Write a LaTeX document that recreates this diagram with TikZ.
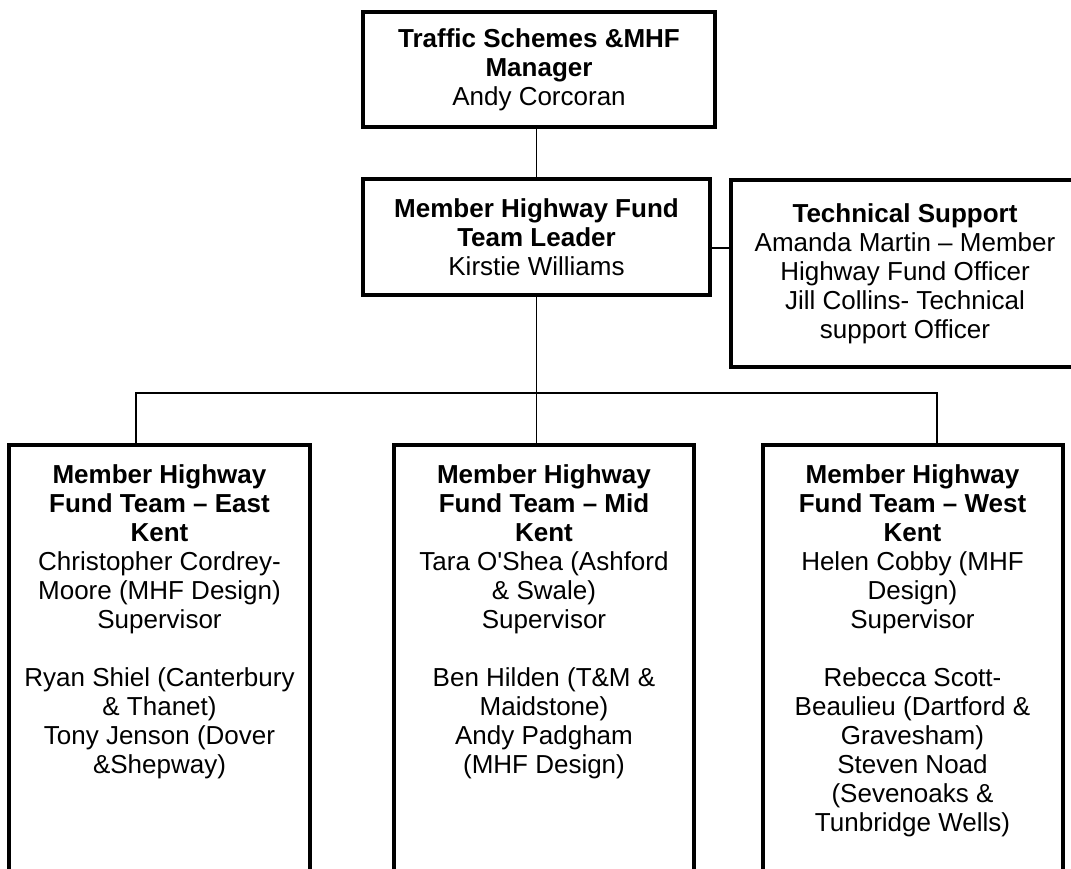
\documentclass[tikz,border=0pt]{standalone}
\usepackage{fontspec}
\setmainfont{Liberation Sans}[Ligatures=TeXOff]
\usepackage{tikz}

\newcommand{\orgsize}{\fontsize{26}{29}\selectfont}
\newcommand{\teamtext}[1]{\parbox[c][430pt][t]{290pt}{\centering #1}}

\tikzset{
  frame/.style={draw, line width=4pt, inner sep=0pt},
  headbox/.style={frame, align=center, font=\orgsize},
  teambox/.style={frame, anchor=north, inner ysep=20pt, inner xsep=5pt, font=\orgsize},
  link/.style={line width=1.3pt},
}

\begin{document}
\begin{tikzpicture}[x=1pt, y=-1pt]
        \useasboundingbox (0,0) rectangle (1071,868);
        \clip (0,0) rectangle (1071,868);
        % management
        \node[headbox, minimum width=352, minimum height=115] (manager) at (539,69.5) {\textbf{Traffic Schemes \&MHF}\\\textbf{Manager}\\Andy Corcoran};
        \node[headbox, minimum width=347, minimum height=116] (leader) at (536.5,237) {\textbf{Member Highway Fund}\\\textbf{Team Leader}\\Kirstie Williams};
        \node[headbox, minimum width=348, minimum height=187] (support) at (905,273.5) {\textbf{Technical Support}\\Amanda Martin – Member\\Highway Fund Officer\\Jill Collins- Technical\\support Officer};
        % teams
        \node[teambox, minimum width=301] (east) at (159.5,443) {\teamtext{\textbf{Member Highway}\\\textbf{Fund Team – East}\\\textbf{Kent}\\Christopher Cordrey-\\Moore (MHF Design)\\Supervisor\\[29pt]Ryan Shiel (Canterbury\\\& Thanet)\\Tony Jenson (Dover\\\&Shepway)}};
        \node[teambox, minimum width=300] (mid) at (544,443) {\teamtext{\textbf{Member Highway}\\\textbf{Fund Team – Mid}\\\textbf{Kent}\\Tara O'Shea (Ashford\\\& Swale)\\Supervisor\\[29pt]Ben Hilden (T\&M \&\\Maidstone)\\Andy Padgham\\(MHF Design)}};
        \node[teambox, minimum width=299] (west) at (912.5,443) {\teamtext{\textbf{Member Highway}\\\textbf{Fund Team – West}\\\textbf{Kent}\\Helen Cobby (MHF\\Design)\\Supervisor\\[29pt]Rebecca Scott-\\Beaulieu (Dartford \&\\Gravesham)\\Steven Noad\\(Sevenoaks \&\\Tunbridge Wells)}};
        % connectors
        \coordinate (bus) at (leader.south |- 0,393);
        \draw[link] (manager.south -| leader.north) -- (leader.north);
        \draw[link] ([yshift=-11pt]leader.east) -- ([yshift=-11pt]leader.east -| support.west);
        \draw[link] (leader.south) -- (leader.south |- mid.north);
        \draw[link] ([xshift=-23.5pt]east.north) |- (bus) -| ([xshift=24.5pt]west.north);
\end{tikzpicture}
\end{document}
